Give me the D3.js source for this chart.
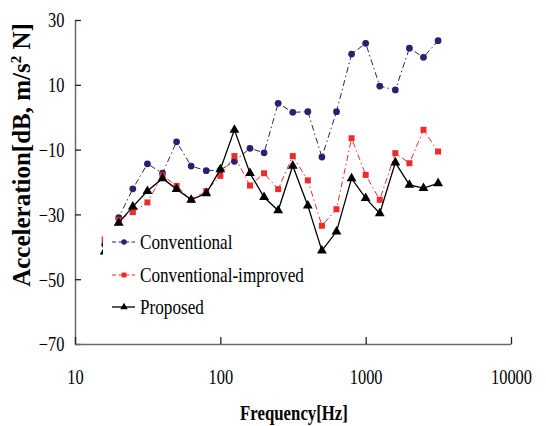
<!DOCTYPE html>
<html>
<head>
<meta charset="utf-8">
<script src="https://cdn.jsdelivr.net/npm/d3@7"></script>
<style>
  body { margin: 0; background: #fff; }
  svg { display: block; }
  text { font-family: "Liberation Serif", "Times New Roman", serif; fill: #000; }
</style>
</head>
<body>
<svg id="canvas" width="546" height="426"></svg>
<script>
// 1/3 octave band centre frequencies
let freqs = [16, 20, 25, 31.5, 40, 50, 63, 80, 100, 125, 160, 200, 250, 315, 400, 500, 630, 800, 1000, 1250, 1600, 2000, 2500, 3150];

let conventional = [-39.3, -31, -22.1, -14.4, -17.3, -7.6, -15.1, -16.5, -16.3, -13.6, -9.6, -11.0, 4.3, 1.5, 1.7, -12.3, 1.7, 19.5, 22.8, 9.6, 8.4, 21.3, 18.5, 23.6];
let improved = [-37.7, -31.7, -29.3, -26.3, -18.0, -21.2, -25.5, -22.8, -18.1, -12.0, -21.1, -17.3, -22.2, -12.0, -19.5, -33.5, -28.4, -6.5, -17.8, -25.5, -11.1, -14.2, -3.9, -10.6];
let proposed = [-41.5, -32.6, -27.6, -22.8, -18.9, -22.2, -25.5, -23.5, -16.1, -3.9, -17.3, -24.7, -28.8, -15.0, -27.3, -41.2, -35.3, -18.9, -25.0, -29.7, -14.0, -20.9, -21.9, -20.4];

let xTicks = [10, 100, 1000, 10000];
let yTicks = [-70, -50, -30, -10, 10, 30];
let seriesNames = ['Conventional', 'Conventional-improved', 'Proposed'];

let canvas = d3.select('#canvas');

let x = d3.scaleLog().domain([10, 10000]).range([75, 511]);
let y = d3.scaleLinear().domain([-70, 30]).range([344, 20]);

// axes (ticks point inward)
let yAxis = canvas.append('g')
    .attr('transform', 'translate(75,0)')
    .call(d3.axisLeft(y).tickValues(yTicks).tickSizeInner(-6).tickSizeOuter(0).tickPadding(13).tickFormat(d3.format('d')));

let xAxis = canvas.append('g')
    .attr('transform', 'translate(0,344)')
    .call(d3.axisBottom(x).tickValues(xTicks).tickSizeInner(-7).tickSizeOuter(0).tickPadding(26).tickFormat(d3.format('d')));

[yAxis, xAxis].forEach((ax) => {
    ax.select('.domain').attr('stroke', '#6a6a6a').attr('stroke-width', 1.5);
    ax.selectAll('.tick line').attr('stroke', '#222').attr('stroke-width', 1.3);
    ax.selectAll('.tick text')
        .style('font-family', '"Liberation Serif", serif')
        .style('font-size', '20px')
        .attr('fill', '#000')
        .attr('transform', 'scale(0.82,1)');
});
yAxis.selectAll('.tick text').attr('dy', '0.34em');

// axis titles
canvas.append('text')
    .attr('transform', 'translate(294,420) scale(0.84,1)')
    .attr('text-anchor', 'middle')
    .style('font-size', '20px')
    .style('font-weight', 'bold')
    .text('Frequency[Hz]');

let yTitle = canvas.append('text')
    .attr('transform', 'translate(30,155) rotate(-90)')
    .attr('text-anchor', 'middle')
    .style('font-size', '25px')
    .style('font-weight', 'bold');
yTitle.append('tspan').text('Acceleration[dB, m/s');
yTitle.append('tspan').attr('dy', -9).style('font-size', '15px').text('2');
yTitle.append('tspan').attr('dy', 9).text(' N]');

// series
let series = [
    { name: seriesNames[0], values: conventional, color: '#23236e', dash: '6,3,1.5,3', width: 1, marker: 'circle' },
    { name: seriesNames[1], values: improved, color: '#ee2b2b', dash: '6,3,1.5,3', width: 1, marker: 'square' },
    { name: seriesNames[2], values: proposed, color: '#000000', dash: null, width: 1.3, marker: 'triangle' }
];

let line = d3.line()
    .x((d) => x(d[0]))
    .y((d) => y(d[1]));

let symbolOf = (m) => {
    if (m === 'circle') return d3.symbolCircle;
    if (m === 'square') return d3.symbolSquare;
    return d3.symbolTriangle;
};

series.forEach((s) => {
    let pts = freqs.map((f, i) => [f, s.values[i]]);
    canvas.append('path')
        .datum(pts)
        .attr('d', line)
        .attr('fill', 'none')
        .attr('stroke', s.color)
        .attr('stroke-width', s.width)
        .attr('stroke-dasharray', s.dash);

    let size = s.marker === 'circle' ? 36 : (s.marker === 'square' ? 36 : 42);
    canvas.append('g')
        .selectAll('path')
        .data(pts)
        .enter()
        .append('path')
        .attr('transform', (d) => 'translate(' + x(d[0]) + ',' + y(d[1]) + ')')
        .attr('d', d3.symbol().type(symbolOf(s.marker)).size(size))
        .attr('fill', s.color);
});

// legend, white box drawn over the data
let legend = canvas.append('g');
legend.append('rect')
    .attr('x', 103)
    .attr('y', 226)
    .attr('width', 205)
    .attr('height', 98)
    .attr('fill', '#fff');

let rowY = [242, 275, 307];
series.forEach((s, i) => {
    let row = legend.append('g').attr('transform', 'translate(0,' + rowY[i] + ')');
    row.append('line')
        .attr('x1', 112).attr('x2', 135)
        .attr('y1', 0).attr('y2', 0)
        .attr('stroke', s.color)
        .attr('stroke-width', s.width)
        .attr('stroke-dasharray', s.marker === 'triangle' ? null : '4,2.5');
    row.append('path')
        .attr('transform', 'translate(124,0)')
        .attr('d', d3.symbol().type(symbolOf(s.marker)).size(24))
        .attr('fill', s.color);
    row.append('text')
        .attr('transform', 'translate(140,7) scale(0.78,1)')
        .style('font-size', '22px')
        .text(s.name);
});
</script>
</body>
</html>
